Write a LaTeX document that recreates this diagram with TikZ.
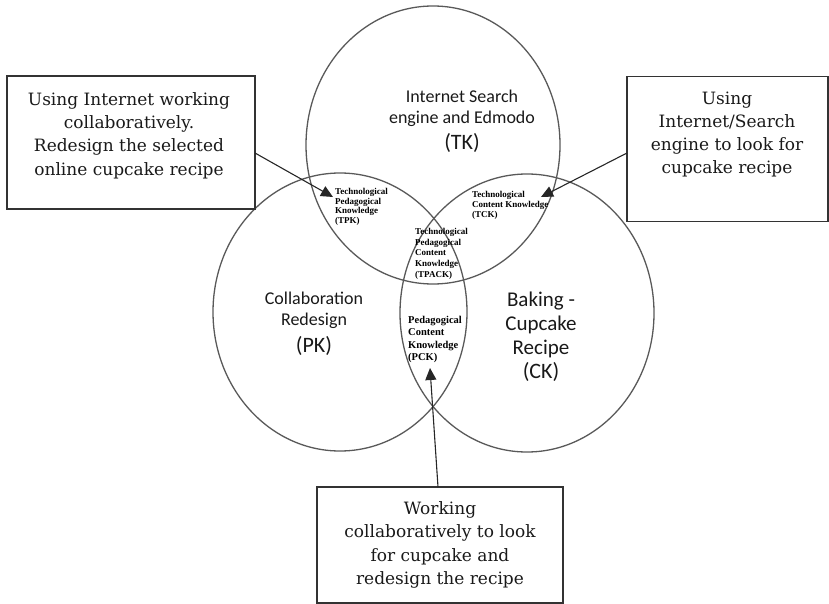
\documentclass[tikz,border=0pt]{standalone}
\usepackage{fontspec}
\setmainfont{DejaVu Serif}
\newfontfamily\calibfont{Carlito}
\newfontfamily\timesfont{Liberation Serif}
\usetikzlibrary{shapes.geometric,arrows.meta}

\begin{document}
\begin{tikzpicture}[x=1pt,y=-1pt,
  venn/.style={ellipse, draw=black!65, line width=1.3pt, minimum width=254pt,
    minimum height=278pt, inner sep=0pt, outer sep=0pt},
  callout/.style={draw=black!80, line width=1.1pt, inner sep=0pt, outer sep=0pt},
  boxtext/.style={font=\fontsize{17}{23.3}\selectfont, align=center, inner sep=0pt, text=black!90},
  setlabel/.style={font=\calibfont\fontsize{18}{21}\selectfont, align=center, inner sep=0pt, text=black!90},
  setabbr/.style={font=\calibfont\fontsize{22}{24}\selectfont, inner sep=0pt, text=black!90},
  areatext/.style={font=\timesfont\bfseries\fontsize{9}{10}\selectfont, align=left,
    inner sep=0pt, anchor=north west},
  pointer/.style={line width=1.1pt, draw=black!85,
    -{Triangle[length=12pt,width=11pt]}}]

\useasboundingbox (0,0) rectangle (829,604);

% the three overlapping knowledge domains
\node[venn] (tk) at (433,145) {};
\node[venn] (pk) at (340,312) {};
\node[venn] (ck) at (527,313) {};

% domain labels
\node[setlabel] (tktext) at (462,108) {Internet Search\\engine and Edmodo};
\node[setabbr] (tkabbr) at (462,143) {(TK)};
\node[setlabel] (pktext) at (314,310) {Collaboration\\Redesign};
\node[setabbr] (pkabbr) at (314,346) {(PK)};
\node[setlabel, font=\calibfont\fontsize{21}{24}\selectfont] (cktext) at (541,325) {Baking -\\Cupcake\\Recipe};
\node[setabbr] (ckabbr) at (541,372) {(CK)};

% intersection labels
\node[areatext, font=\timesfont\bfseries\fontsize{9}{9.7}\selectfont] (tpk) at (335,188)
  {Technological\\Pedagogical\\Knowledge\\(TPK)};
\node[areatext] (tck) at (472,191) {Technological\\Content Knowledge\\(TCK)};
\node[areatext, font=\timesfont\bfseries\fontsize{9}{10.7}\selectfont] (tpack) at (415,228)
  {Technological\\Pedagogical\\Content\\Knowledge\\(TPACK)};
\node[areatext, font=\timesfont\bfseries\fontsize{10.5}{12.3}\selectfont] (pck) at (408,316)
  {Pedagogical\\Content\\Knowledge\\(PCK)};

% callout boxes
\node[callout, minimum width=248pt, minimum height=133pt] (lbox) at (131,142.5) {};
\node[boxtext] (ltext) at (129,135.5)
  {Using Internet working\\collaboratively.\\Redesign the selected\\online cupcake recipe};
\node[callout, minimum width=201pt, minimum height=145pt] (rbox) at (727.5,149) {};
\node[boxtext] (rtext) at (727,134.5)
  {Using\\Internet/Search\\engine to look for\\cupcake recipe};
\node[callout, minimum width=246pt, minimum height=116pt] (bbox) at (440,545) {};
\node[boxtext] (btext) at (440,545)
  {Working\\collaboratively to look\\for cupcake and\\redesign the recipe};

% pointers into the overlap regions
\coordinate (tpktip) at (333,197);
\coordinate (tcktip) at (541,197);
\coordinate (pcktip) at (430,368);
\draw[pointer] ([yshift=-10.5pt]lbox.east) -- (tpktip);
\draw[pointer] ([yshift=-4pt]rbox.west) -- (tcktip);
\draw[pointer] ([xshift=-2pt]bbox.north) -- (pcktip);
\end{tikzpicture}
\end{document}
